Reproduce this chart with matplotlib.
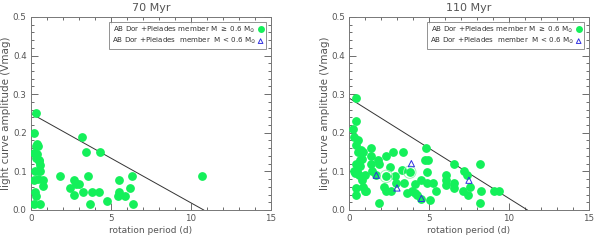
import matplotlib
matplotlib.use("Agg")
import matplotlib.pyplot as plt
from matplotlib.ticker import MultipleLocator, FormatStrFormatter

GREEN = "#14F05A"
BLUE = "#3030E0"
GREY = "#555555"

# 70 Myr panel
p70 = [0.35, 0.19, 3.17, 0.29, 0.46, 0.21, 0.40, 0.30, 3.44, 4.29, 0.52, 0.60,
       0.23, 0.60, 0.73, 0.19, 0.46, 0.73, 1.81, 3.58, 2.69, 3.00, 2.80, 2.44,
       2.69, 3.23, 3.85, 4.27, 3.69, 4.77, 5.50, 5.50, 5.46, 5.88, 6.19, 6.31,
       6.40, 0.25, 0.21, 0.35, 0.60, 10.67, 0.50, 0.40]
a70 = [0.250, 0.200, 0.190, 0.165, 0.166, 0.147, 0.145, 0.135, 0.150, 0.150, 0.127, 0.117,
       0.100, 0.100, 0.078, 0.078, 0.080, 0.062, 0.088, 0.088, 0.078, 0.068, 0.068, 0.057,
       0.040, 0.046, 0.046, 0.046, 0.015, 0.024, 0.077, 0.046, 0.036, 0.036, 0.056, 0.088,
       0.015, 0.046, 0.015, 0.036, 0.015, 0.088, 0.130, 0.170]
line70 = ([0.0, 10.8], [0.25, 0.0])

# 110 Myr panel, M >= 0.6 Msun
p110 = [0.46, 0.42, 0.25, 0.29, 0.56, 0.46, 0.56, 1.40, 1.40, 1.35, 0.77, 0.83,
        0.46, 0.67, 0.50, 0.35, 0.63, 0.83, 0.98, 0.88, 0.98, 0.46, 0.46, 1.46,
        1.71, 1.81, 1.85, 1.88, 2.29, 2.33, 2.17, 2.29, 2.54, 2.75, 2.65, 2.85,
        2.96, 3.38, 3.33, 3.42, 3.80, 3.96, 4.10, 4.10, 4.25, 4.53, 4.53, 4.80,
        4.73, 4.94, 4.90, 4.88, 5.04, 5.25, 5.46, 6.04, 6.08, 6.08, 6.54, 6.54,
        6.54, 7.13, 7.20, 7.35, 7.46, 7.56, 8.17, 8.27, 8.17, 9.08, 9.40, 0.30,
        0.70, 1.05, 3.60, 0.85]
a110 = [0.290, 0.230, 0.210, 0.190, 0.180, 0.167, 0.150, 0.160, 0.140, 0.120, 0.155, 0.133,
        0.120, 0.115, 0.100, 0.095, 0.090, 0.077, 0.090, 0.060, 0.048, 0.057, 0.038, 0.100,
        0.090, 0.130, 0.118, 0.017, 0.140, 0.087, 0.060, 0.048, 0.110, 0.150, 0.048, 0.088,
        0.070, 0.150, 0.104, 0.070, 0.098, 0.048, 0.068, 0.045, 0.038, 0.077, 0.029, 0.160,
        0.130, 0.130, 0.098, 0.070, 0.025, 0.070, 0.048, 0.090, 0.077, 0.065, 0.120, 0.070,
        0.057, 0.048, 0.100, 0.090, 0.038, 0.060, 0.120, 0.048, 0.019, 0.048, 0.048, 0.100,
        0.130, 0.050, 0.045, 0.150]
# 110 Myr, M < 0.6 Msun
p110_low = [1.71, 3.90, 3.00, 4.53, 7.50]
a110_low = [0.090, 0.120, 0.057, 0.030, 0.077]
# circled stars
p110_ring = [2.33, 3.80]
a110_ring = [0.087, 0.098]
line110 = ([0.0, 11.15], [0.29, 0.0])

plt.rcParams["font.family"] = ["DejaVu Sans"]
fig = plt.figure(figsize=(5.94, 2.45), dpi=100)
ax1 = fig.add_axes([0.052, 0.143, 0.404, 0.788])
ax2 = fig.add_axes([0.5875, 0.143, 0.404, 0.788])

lab_hi = r"AB Dor +Pleiades member M $\geq$ 0.6 M$_{\odot}$"
lab_lo = r"AB Dor +Pleiades  member  M < 0.6 M$_{\odot}$"


def style(ax, title):
    ax.set_xlim(0, 15)
    ax.set_ylim(0, 0.5)
    ax.xaxis.set_major_locator(MultipleLocator(5))
    ax.xaxis.set_minor_locator(MultipleLocator(1))
    ax.yaxis.set_major_locator(MultipleLocator(0.1))
    ax.yaxis.set_minor_locator(MultipleLocator(0.02))
    ax.yaxis.set_major_formatter(FormatStrFormatter("%.1f"))
    ax.tick_params(which="both", direction="in", top=True, right=True,
                   colors=GREY, labelsize=6.3, width=0.6)
    ax.tick_params(which="major", length=5, pad=3)
    ax.tick_params(which="minor", length=2.5)
    for s in ax.spines.values():
        s.set_color("#777777")
        s.set_linewidth(0.7)
    ax.set_title(title, fontsize=8, color=GREY, pad=4)
    ax.set_xlabel("rotation period (d)", fontsize=6.5, color=GREY, labelpad=2)
    ax.set_ylabel("light curve amplitude (Vmag)", fontsize=7.5, color=GREY, labelpad=1)


for ax, title in [(ax1, "70 Myr"), (ax2, "110 Myr")]:
    style(ax, title)

ax1.plot(*line70, color="#333333", lw=0.7)
ax1.scatter(p70, a70, s=28, color=GREEN, zorder=3, label=lab_hi)
ax1.scatter([], [], s=20, marker="^", facecolor="none", edgecolor=BLUE, lw=0.7, label=lab_lo)

ax2.plot(*line110, color="#333333", lw=0.7)
ax2.scatter(p110, a110, s=28, color=GREEN, zorder=3, label=lab_hi)
ax2.scatter(p110_ring, a110_ring, s=80, facecolor="none", edgecolor="#9CF5B4", lw=0.7, zorder=3)
ax2.scatter(p110_low, a110_low, s=20, marker="^", facecolor="none", edgecolor=BLUE,
            lw=0.7, zorder=4, label=lab_lo)

for ax in (ax1, ax2):
    leg = ax.legend(loc="upper right", fontsize=5.1, markerfirst=False, frameon=True,
                    fancybox=False, handletextpad=0.3, borderpad=0.35, labelspacing=0.2,
                    handlelength=0.8, borderaxespad=0.7, markerscale=0.75)
    leg.get_frame().set_edgecolor("#777777")
    leg.get_frame().set_linewidth(0.7)
    for t in leg.get_texts():
        t.set_color("#333333")

fig.savefig("out.png", dpi=100)
